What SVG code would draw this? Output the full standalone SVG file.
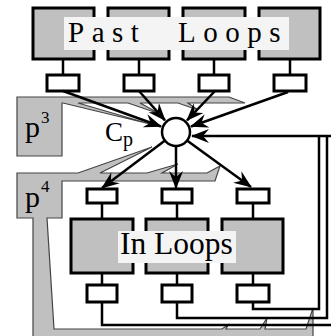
<svg xmlns="http://www.w3.org/2000/svg" width="331" height="336" viewBox="0 0 331 336">
<style>
.box{fill:#c0c0c0;stroke:#000;stroke-width:3}
.sm{fill:#fff;stroke:#000;stroke-width:3}
.ln{fill:none;stroke:#000;stroke-width:2.5}
.reg{fill:#c0c0c0;stroke:#444;stroke-width:1.2;stroke-linejoin:miter}
.lbl{fill:#f4f4f4}
text{font-family:"Liberation Serif","Times New Roman",serif;fill:#000}
</style>
<defs>
<marker id="ah" markerUnits="userSpaceOnUse" markerWidth="20" markerHeight="16" refX="17" refY="7" orient="auto">
<path d="M0,0 L18,7 L0,14 L6,7 Z" fill="#000"/>
</marker>
</defs>
<rect width="331" height="336" fill="#fff"/>
<g id="p3">
<path class="reg" d="M17,97 H229 L245,103 H188 L198,110 L178,103 H140 L160,114 L128,103 H78 L150,124 L63,103 H62 V156 H17 Z"/>
<text x="25" y="137" font-size="30">p<tspan dx="1" dy="-14" font-size="17">3</tspan></text>
</g>
<g id="p4">
<path class="reg" d="M17,173 H78 L152,147 L100,173 H147 L178,164 L162,173 H207 L220,166 L215,181 H62 V218 H47 L54,329 H222 L228,325 L226,329 H260 L267,318 L265,329 H306 L313,308 V337 H33 V218 H17 Z"/>
<text x="25" y="207" font-size="30">p<tspan dx="1" dy="-15" font-size="17">4</tspan></text>
</g>
<g id="past-loops">
<rect class="box" x="33" y="8" width="61" height="51"/>
<rect class="box" x="108" y="8" width="61" height="51"/>
<rect class="box" x="183" y="8" width="62" height="51"/>
<rect class="box" x="259" y="8" width="61" height="51"/>
<rect class="lbl" x="64" y="17" width="225" height="33"/>
<text x="68" y="42" font-size="29" letter-spacing="7.5" word-spacing="17">Past Loops</text>
</g>
<g id="past-ports">
<line class="ln" x1="63" y1="59" x2="63" y2="75"/>
<line class="ln" x1="139" y1="59" x2="139" y2="75"/>
<line class="ln" x1="214" y1="59" x2="214" y2="75"/>
<line class="ln" x1="290" y1="59" x2="290" y2="75"/>
<rect class="sm" x="47" y="75" width="32" height="16"/>
<rect class="sm" x="124" y="75" width="30" height="16"/>
<rect class="sm" x="199" y="75" width="30" height="16"/>
<rect class="sm" x="274" y="75" width="32" height="16"/>
</g>
<g id="in-loops">
<rect class="box" x="71" y="219" width="62" height="54"/>
<rect class="box" x="146" y="219" width="62" height="54"/>
<rect class="box" x="222" y="219" width="61" height="54"/>
<rect class="lbl" x="118" y="231" width="118" height="32"/>
<text x="120" y="254" font-size="31.5">In Loops</text>
</g>
<g id="in-ports">
<line class="ln" x1="102" y1="203" x2="102" y2="219"/>
<line class="ln" x1="177" y1="203" x2="177" y2="219"/>
<line class="ln" x1="253" y1="203" x2="253" y2="219"/>
<line class="ln" x1="102" y1="273" x2="102" y2="285"/>
<line class="ln" x1="177" y1="273" x2="177" y2="285"/>
<line class="ln" x1="253" y1="273" x2="253" y2="285"/>
<rect class="sm" x="87" y="189" width="30" height="14"/>
<rect class="sm" x="162" y="189" width="30" height="14"/>
<rect class="sm" x="237" y="189" width="32" height="14"/>
<rect class="sm" x="87" y="285" width="30" height="17"/>
<rect class="sm" x="162" y="285" width="30" height="17"/>
<rect class="sm" x="237" y="285" width="32" height="17"/>
</g>
<g id="connectors">
<path class="ln" d="M253,302 V309 H319 V136"/>
<path class="ln" d="M177,302 V318 H327 V136"/>
<path class="ln" d="M102,302 V325 H336 V136"/>
<path class="ln" d="M336,136 H192" marker-end="url(#ah)"/>
<line class="ln" x1="63" y1="91" x2="161" y2="126.5" marker-end="url(#ah)"/>
<line class="ln" x1="139" y1="91" x2="165" y2="120.3" marker-end="url(#ah)"/>
<line class="ln" x1="215" y1="91" x2="187" y2="120.4" marker-end="url(#ah)"/>
<line class="ln" x1="288" y1="92" x2="191" y2="126.5" marker-end="url(#ah)"/>
<line class="ln" x1="165" y1="140.5" x2="102" y2="188" marker-end="url(#ah)"/>
<line class="ln" x1="176" y1="146" x2="176" y2="188" marker-end="url(#ah)"/>
<line class="ln" x1="187" y1="140.5" x2="251" y2="187" marker-end="url(#ah)"/>
</g>
<g id="cp">
<circle cx="176" cy="132" r="14" fill="#fff" stroke="#000" stroke-width="2.5"/>
<text x="105" y="141" font-size="27">C<tspan dy="5" font-size="20">p</tspan></text>
</g>
</svg>
